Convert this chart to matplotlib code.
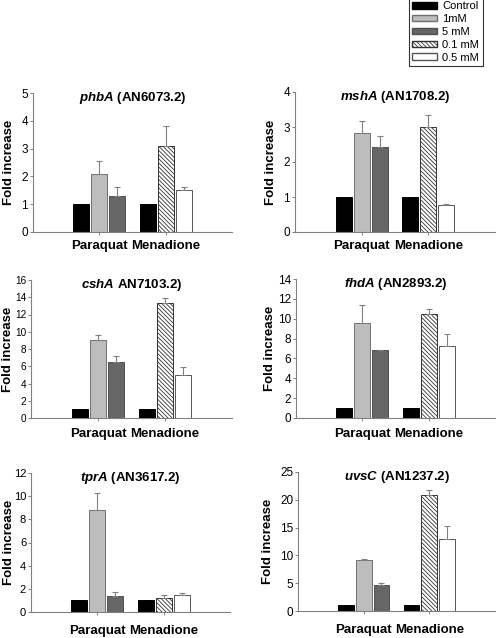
import matplotlib
matplotlib.use("Agg")
import matplotlib.pyplot as plt
from matplotlib.patches import Patch
import numpy as np

plt.rcParams['font.family'] = ['Liberation Sans', 'DejaVu Sans']
plt.rcParams['mathtext.fontset'] = 'custom'
plt.rcParams['mathtext.bfit'] = 'Liberation Sans:italic:bold'
plt.rcParams['hatch.linewidth'] = 0.6
plt.rcParams['hatch.color'] = '#444444'

genes = ['phbA', 'mshA', 'cshA', 'fhdA', 'tprA', 'uvsC']
ids = ['(AN6073.2)', '(AN1708.2)', 'AN7103.2)', '(AN2893.2)', '(AN3617.2)', '(AN1237.2)']
groups = ['Paraquat', 'Menadione']
legend_labels = ['Control', '1mM', '5 mM', '0.1 mM', '0.5 mM']

# values per gene: [control, 1mM, 5mM] for paraquat, [control, 0.1mM, 0.5mM] for menadione
paraquat_vals = [[1, 2.07, 1.28], [1, 2.82, 2.42], [1, 9.0, 6.45],
                 [1, 9.6, 6.8], [1, 8.83, 1.35], [1, 9.2, 4.6]]
paraquat_err = [[0, 0.5, 0.35], [0, 0.35, 0.31], [0, 0.68, 0.7],
                [0, 1.75, 0.05], [0, 1.44, 0.35], [0, 0.1, 0.48]]
menadione_vals = [[1, 3.1, 1.5], [1, 3.0, 0.78], [1, 13.3, 4.98],
                  [1, 10.5, 7.25], [1, 1.21, 1.47], [1, 20.8, 12.9]]
menadione_err = [[0, 0.7, 0.13], [0, 0.34, 0.03], [0, 0.6, 0.9],
                 [0, 0.5, 1.2], [0, 0.26, 0.17], [0, 0.95, 2.3]]
ymax = [5, 4, 16, 14, 12, 25]
ystep = [1, 1, 2, 2, 2, 5]

# axes boxes in pixels: left, top, right, bottom
boxes = [(33, 93, 232, 232), (295, 92, 495, 232),
         (31, 280, 232, 418), (296, 279, 495, 418),
         (31, 473, 230, 612), (298, 472, 495, 611)]
label_off = [-24, -24, -23, -26, -22, -30]
xpad = [3.2, 3.2, 4.7, 4.7, 6.8, 6.8]
ytick_size = [8.5, 8.5, 7.2, 8.5, 8, 8.5]

W, H = 496, 638
fig = plt.figure(figsize=(W / 100, H / 100), dpi=100)

hatch = '\\' * 8
par_style = [dict(color='black', edgecolor='black'),
             dict(color='#bdbdbd', edgecolor='#707070'),
             dict(color='#666666', edgecolor='#505050')]
men_style = [dict(color='black', edgecolor='black'),
             dict(color='white', edgecolor='#333333', hatch=hatch),
             dict(color='white', edgecolor='#555555')]

bw = 0.24
offs = [-0.27, 0, 0.27]

for i in range(6):
    l, t, r, b = boxes[i]
    ax = fig.add_axes([l / W, 1 - b / H, (r - l) / W, (b - t) / H])
    for j in range(3):
        ax.bar(1 + offs[j], paraquat_vals[i][j], bw, linewidth=0.7, **par_style[j])
        ax.bar(2 + offs[j], menadione_vals[i][j], bw, linewidth=0.7, **men_style[j])
        for x, v, e in [(1 + offs[j], paraquat_vals[i][j], paraquat_err[i][j]),
                        (2 + offs[j], menadione_vals[i][j], menadione_err[i][j])]:
            if e > 0:
                ax.errorbar(x, v, yerr=[[0], [e]], fmt='none', ecolor='#808080',
                            elinewidth=0.8, capsize=2.2, capthick=0.8)
    ax.set_xlim(0, 3)
    ax.set_ylim(0, ymax[i])
    ax.set_yticks(np.arange(0, ymax[i] + 0.01, ystep[i]))
    ax.set_xticks([1, 2])
    ax.set_xticklabels(groups, fontsize=9.5, fontweight='bold')
    ax.tick_params(axis='x', length=2.5, width=0.7, color='#808080', pad=xpad[i])
    ax.tick_params(axis='y', length=2.5, width=0.7, color='#808080',
                   labelsize=ytick_size[i], pad=1)
    for s in ['top', 'right']:
        ax.spines[s].set_visible(False)
    for s in ['left', 'bottom']:
        ax.spines[s].set_color('#808080')
        ax.spines[s].set_linewidth(0.8)
    ax.set_ylabel('Fold increase', fontsize=9.5, fontweight='bold', va='center')
    ax.yaxis.set_label_coords(label_off[i] / (r - l), 0.5)
    ax.text(0.5, 0.965, r'$\mathbfit{' + genes[i] + '}$ ' + ids[i],
            transform=ax.transAxes, ha='center', va='center',
            fontsize=9.5, fontweight='bold')

handles = [Patch(facecolor='black', edgecolor='black'),
           Patch(facecolor='#bdbdbd', edgecolor='#707070'),
           Patch(facecolor='#666666', edgecolor='#505050'),
           Patch(facecolor='white', edgecolor='#333333', hatch=hatch),
           Patch(facecolor='white', edgecolor='#555555')]
leg = fig.legend(handles, legend_labels, loc='upper left',
                 bbox_to_anchor=(409 / W, 1.003), fontsize=8, frameon=True,
                 fancybox=False, edgecolor='black', borderaxespad=0,
                 handlelength=2.2, handleheight=0.5, labelspacing=0.25,
                 handletextpad=0.5, borderpad=0.3)
leg.get_frame().set_linewidth(0.8)

fig.savefig('out.png', dpi=100)
